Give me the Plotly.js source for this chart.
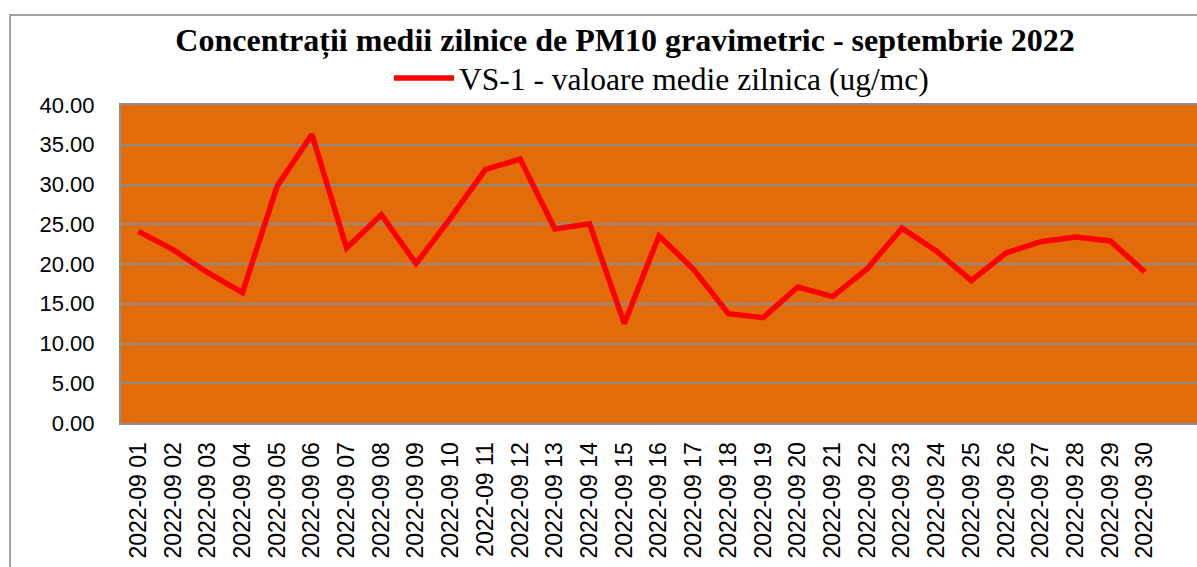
<!DOCTYPE html>
<html>
<head>
<meta charset="utf-8">
<script src="https://cdn.plot.ly/plotly-3.0.1.min.js"></script>
<style>
html,body{margin:0;padding:0;background:#fff;overflow:hidden;}
#chart{width:1197px;height:567px;position:relative;}
#frame{position:absolute;left:9px;top:14px;width:1400px;height:800px;border:2px solid #a0a0a0;pointer-events:none;}
</style>
</head>
<body>
<div id="chart"></div>
<div id="frame"></div>
<script>
const days = ["2022-09 01","2022-09 02","2022-09 03","2022-09 04","2022-09 05","2022-09 06","2022-09 07","2022-09 08","2022-09 09","2022-09 10",
"2022-09 11","2022-09 12","2022-09 13","2022-09 14","2022-09 15","2022-09 16","2022-09 17","2022-09 18","2022-09 19","2022-09 20",
"2022-09 21","2022-09 22","2022-09 23","2022-09 24","2022-09 25","2022-09 26","2022-09 27","2022-09 28","2022-09 29","2022-09 30"];
const vs1 = [24.1,21.8,18.9,16.4,29.8,36.3,22.0,26.2,20.05,25.8,
31.9,33.2,24.4,25.05,12.5,23.55,19.3,13.75,13.25,17.1,
15.9,19.4,24.5,21.6,17.9,21.4,22.8,23.4,22.9,19.0];
const seriesName = "VS-1 - valoare medie zilnica (ug/mc)";
const titleText = "Concentrații medii zilnice de PM10 gravimetric - septembrie 2022";

const trace = {
  x: days, y: vs1, type: 'scatter', mode: 'lines', name: seriesName,
  line: {color: '#ff0000', width: 5.5}
};
const layout = {
  width: 1197, height: 567,
  margin: {l: 121, r: 0, t: 103, b: 144},
  paper_bgcolor: '#ffffff', plot_bgcolor: '#e36c0a',
  title: {text: titleText, font: {family: 'Liberation Serif', size: 32, color: '#000', weight: 'bold'},
          xref: 'container', yref: 'container', x: 625/1197, y: 1 - 40/567, xanchor: 'center', yanchor: 'middle'},
  showlegend: true,
  legend: {orientation: 'h', xref: 'container', yref: 'container', x: 389/1197, y: 1 - 78/567, xanchor: 'left', yanchor: 'middle',
           font: {family: 'Liberation Serif', size: 31.5, color: '#000'}, bgcolor: 'rgba(0,0,0,0)', itemwidth: 60},
  xaxis: {type: 'category', range: [-0.5, 30.5], tickangle: -90, showgrid: false, zeroline: false,
          showline: true, linecolor: '#8c8c8c', linewidth: 2, mirror: true, ticks: '', ticklabelstandoff: 8,
          tickfont: {family: 'Liberation Sans', size: 23, color: '#000'}},
  yaxis: {range: [0, 40], dtick: 5, tickformat: '.2f', showgrid: true, gridcolor: '#8c8c8c', gridwidth: 2, zeroline: false,
          showline: true, linecolor: '#8c8c8c', linewidth: 2, mirror: true, ticks: '', ticklabelstandoff: 20,
          tickfont: {family: 'Liberation Sans', size: 22, color: '#000'}}
};
Plotly.newPlot('chart', [trace], layout, {displayModeBar: false, staticPlot: true});
</script>
</body>
</html>
